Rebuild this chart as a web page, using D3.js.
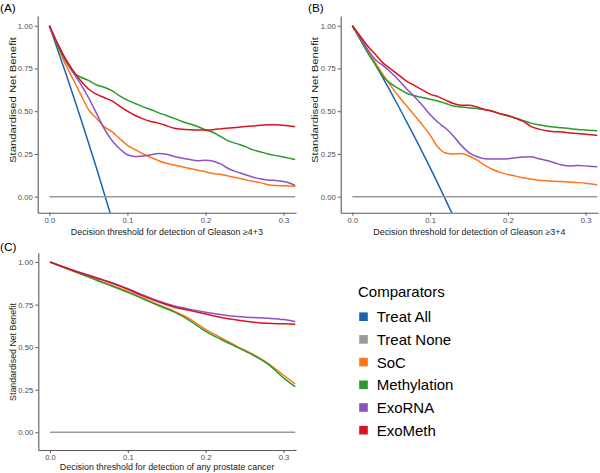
<!DOCTYPE html>
<html><head><meta charset="utf-8">
<script src="https://cdn.jsdelivr.net/npm/d3@7"></script>
<style>html,body{margin:0;padding:0;background:#fff;}svg{display:block;font-family:"Liberation Sans",Arial,sans-serif;}</style>
</head><body>
<svg id="chart" width="600" height="473"></svg>
<script>
// ---------- data ----------
const comparators = ["Treat All","Treat None","SoC","Methylation","ExoRNA","ExoMeth"];
const colours = ["#1c63ad","#9a9a9a","#ff7518","#2a9a2a","#8b52c0","#d7141f"];
const xTicks = [0, 0.1, 0.2, 0.3];
const xTickLabels = ["0.0","0.1","0.2","0.3"];
const yTicks = [0, 0.25, 0.5, 0.75, 1];
const yTickLabels = ["0.00","0.25","0.50","0.75","1.00"];

const thrAB = [0,0.01,0.02,0.03,0.04,0.05,0.06,0.07,0.08,0.09,0.10,0.11,0.12,0.13,0.14,0.15,0.16,0.17,0.18,0.19,0.20,0.21,0.22,0.23,0.24,0.25,0.26,0.27,0.28,0.29,0.30,0.31,0.315];
const thrNone = [0, 0.315];
const noneValues = [0, 0];

// Panel A: Gleason >=4+3
const thrAllA = [0, 0.02, 0.04, 0.06, 0.08];
const aTreatAll = [1, 0.735, 0.46, 0.172, -0.128];
const aSoC = [1.0,0.89,0.78,0.69,0.60,0.51,0.46,0.41,0.38,0.34,0.30,0.275,0.25,0.23,0.21,0.195,0.185,0.175,0.165,0.155,0.145,0.135,0.13,0.12,0.11,0.10,0.09,0.082,0.07,0.065,0.064,0.062,0.06];
const aMethylation = [1.0,0.89,0.80,0.73,0.70,0.68,0.655,0.64,0.62,0.59,0.565,0.545,0.525,0.51,0.49,0.475,0.458,0.44,0.425,0.41,0.39,0.375,0.35,0.325,0.31,0.295,0.275,0.263,0.25,0.24,0.232,0.222,0.217];
const aExoRNA = [1.0,0.90,0.81,0.73,0.66,0.58,0.49,0.40,0.33,0.28,0.245,0.235,0.238,0.245,0.252,0.248,0.235,0.225,0.217,0.21,0.213,0.207,0.19,0.163,0.145,0.13,0.115,0.105,0.098,0.095,0.088,0.075,0.065];
const aExoMeth = [1.0,0.90,0.81,0.74,0.68,0.63,0.60,0.58,0.56,0.53,0.50,0.475,0.455,0.44,0.43,0.415,0.40,0.395,0.392,0.39,0.39,0.392,0.397,0.402,0.405,0.41,0.413,0.418,0.42,0.42,0.418,0.412,0.41];

// Panel B: Gleason >=3+4
const thrAllB = [0, 0.02, 0.04, 0.06, 0.08, 0.10, 0.12, 0.13];
const bTreatAll = [1, 0.848, 0.689, 0.523, 0.35, 0.17, -0.019, -0.116];
const bSoC = [1.0,0.92,0.85,0.78,0.71,0.645,0.585,0.53,0.475,0.42,0.36,0.29,0.255,0.25,0.252,0.238,0.215,0.185,0.16,0.142,0.13,0.12,0.11,0.102,0.096,0.093,0.09,0.088,0.085,0.082,0.078,0.072,0.068];
const bMethylation = [1.0,0.92,0.84,0.77,0.70,0.66,0.63,0.605,0.59,0.58,0.57,0.56,0.545,0.53,0.525,0.52,0.515,0.51,0.50,0.485,0.472,0.46,0.445,0.43,0.42,0.412,0.407,0.403,0.398,0.393,0.39,0.387,0.385];
const bExoRNA = [1.0,0.93,0.86,0.80,0.765,0.725,0.68,0.63,0.585,0.535,0.48,0.435,0.40,0.355,0.30,0.258,0.235,0.222,0.22,0.22,0.222,0.228,0.232,0.233,0.222,0.211,0.198,0.185,0.18,0.182,0.18,0.176,0.175];
const bExoMeth = [1.0,0.94,0.88,0.83,0.78,0.745,0.71,0.675,0.65,0.625,0.60,0.585,0.565,0.545,0.535,0.535,0.525,0.51,0.50,0.485,0.475,0.458,0.44,0.41,0.395,0.385,0.38,0.378,0.373,0.37,0.365,0.36,0.358];

// Panel C: any prostate cancer
const thrC = [0,0.02,0.04,0.06,0.08,0.10,0.12,0.14,0.16,0.18,0.20,0.22,0.24,0.26,0.28,0.30,0.315];
const cSoC = [1.0,0.965,0.93,0.895,0.862,0.827,0.788,0.748,0.71,0.665,0.605,0.555,0.505,0.46,0.405,0.335,0.285];
const cMethylation = [1.0,0.965,0.93,0.893,0.858,0.822,0.783,0.743,0.706,0.655,0.593,0.545,0.50,0.455,0.40,0.32,0.268];
const cExoRNA = [1.0,0.967,0.937,0.908,0.878,0.843,0.805,0.77,0.742,0.722,0.705,0.69,0.68,0.675,0.67,0.662,0.65];
const cExoMeth = [1.0,0.967,0.935,0.905,0.875,0.84,0.80,0.765,0.735,0.715,0.695,0.675,0.66,0.648,0.64,0.637,0.635];

// ---------- drawing ----------
const svg = d3.select("#chart");
const color = d3.scaleOrdinal().domain(comparators).range(colours);

function panel(cfg) {
  const x = d3.scaleLinear().domain([-0.015, 0.316]).range(cfg.xr);
  const y = d3.scaleLinear().domain(cfg.yd).range(cfg.yr);
  const id = "clip" + cfg.label.replace(/\W/g,"");
  svg.append("clipPath").attr("id", id).append("rect")
    .attr("x", cfg.xr[0]).attr("y", cfg.yr[1])
    .attr("width", cfg.xr[1]-cfg.xr[0]).attr("height", cfg.yr[0]-cfg.yr[1]);
  const g = svg.append("g");
  const plot = g.append("g").attr("clip-path", `url(#${id})`);
  const line = d3.line().x(d => x(d[0])).y(d => y(d[1])).curve(d3.curveMonotoneX);
  cfg.series.forEach(s => {
    plot.append("path")
      .datum(s.t.map((t,i) => [t, s.v[i]]))
      .attr("fill","none").attr("stroke", color(s.name))
      .attr("stroke-width", 1.5).attr("stroke-linejoin","round")
      .attr("d", line);
  });
  // axes
  const xa = g.append("g").attr("transform", `translate(0,${cfg.yr[0]})`)
    .call(d3.axisBottom(x).tickValues(xTicks).tickFormat((d,i)=>xTickLabels[i]).tickSize(3).tickSizeOuter(0).tickPadding(2));
  const ya = g.append("g").attr("transform", `translate(${cfg.xr[0]},0)`)
    .call(d3.axisLeft(y).tickValues(yTicks).tickFormat((d,i)=>yTickLabels[i]).tickSize(3).tickSizeOuter(0).tickPadding(2));
  [xa, ya].forEach(a => {
    a.select(".domain").attr("stroke","#5a5a5a").attr("stroke-width",1.1);
    a.selectAll(".tick line").attr("stroke","#5a5a5a");
    a.selectAll(".tick text").attr("fill","#4d4d4d").style("font-size","7.7px").style("font-family","Liberation Sans, Arial, sans-serif");
  });
  // titles
  g.append("text").attr("x", (cfg.xr[0]+cfg.xr[1])/2).attr("y", cfg.xTitleY)
    .attr("text-anchor","middle").style("font-size","8.9px").attr("fill","#1a1a1a").text(cfg.xTitle);
  const yt = g.append("text").attr("transform", `translate(${cfg.yTitleX},${cfg.yTitleCY}) rotate(-90)`)
    .attr("text-anchor","middle").attr("dy","0.35em").style("font-size","8.8px").attr("fill","#1a1a1a")
    .text("Standardised Net Benefit");
  if (cfg.yTitleLen) yt.attr("textLength", cfg.yTitleLen).attr("lengthAdjust","spacingAndGlyphs");
  svg.append("text").attr("x", cfg.labelX).attr("y", cfg.labelY)
    .style("font-size","11.8px").attr("fill","#000").text(cfg.label);
}

panel({
  label:"(A)", labelX:0, labelY:11.5,
  xr:[37.7, 296], yr:[212.7, 16], yd:[-0.094, 1.057],
  xTitle:"Decision threshold for detection of Gleason \u22654+3", xTitleY:234.8,
  yTitleX:12.5, yTitleCY:100, yTitleLen:126,
  series:[
    {name:"Treat All", t:thrAllA, v:aTreatAll},
    {name:"Treat None", t:thrNone, v:noneValues},
    {name:"SoC", t:thrAB, v:aSoC},
    {name:"Methylation", t:thrAB, v:aMethylation},
    {name:"ExoRNA", t:thrAB, v:aExoRNA},
    {name:"ExoMeth", t:thrAB, v:aExoMeth}
  ]
});
panel({
  label:"(B)", labelX:308, labelY:11.5,
  xr:[340.7, 598], yr:[212.7, 16], yd:[-0.094, 1.057],
  xTitle:"Decision threshold for detection of Gleason \u22653+4", xTitleY:234.8,
  yTitleX:315, yTitleCY:100, yTitleLen:126,
  series:[
    {name:"Treat All", t:thrAllB, v:bTreatAll},
    {name:"Treat None", t:thrNone, v:noneValues},
    {name:"SoC", t:thrAB, v:bSoC},
    {name:"Methylation", t:thrAB, v:bMethylation},
    {name:"ExoRNA", t:thrAB, v:bExoRNA},
    {name:"ExoMeth", t:thrAB, v:bExoMeth}
  ]
});
panel({
  label:"(C)", labelX:0, labelY:251,
  xr:[38.3, 296], yr:[450, 252.7], yd:[-0.104, 1.055],
  xTitle:"Decision threshold for detection of any prostate cancer", xTitleY:470,
  yTitleX:12.5, yTitleCY:352,
  series:[
    {name:"Treat None", t:thrNone, v:noneValues},
    {name:"SoC", t:thrC, v:cSoC},
    {name:"Methylation", t:thrC, v:cMethylation},
    {name:"ExoRNA", t:thrC, v:cExoRNA},
    {name:"ExoMeth", t:thrC, v:cExoMeth}
  ]
});

// legend
const lg = svg.append("g");
lg.append("text").attr("x", 358).attr("y", 296.7).style("font-size","15px").attr("fill","#000").text("Comparators");
comparators.forEach((c,i) => {
  const cy = 316.7 + i*22.7;
  lg.append("rect").attr("x", 359.2).attr("y", cy-4.3).attr("width", 8.6).attr("height", 8.6).attr("fill", color(c));
  lg.append("text").attr("x", 376.7).attr("y", cy+5.5).style("font-size","15px").attr("fill","#000").text(c);
});
</script>
</body></html>
